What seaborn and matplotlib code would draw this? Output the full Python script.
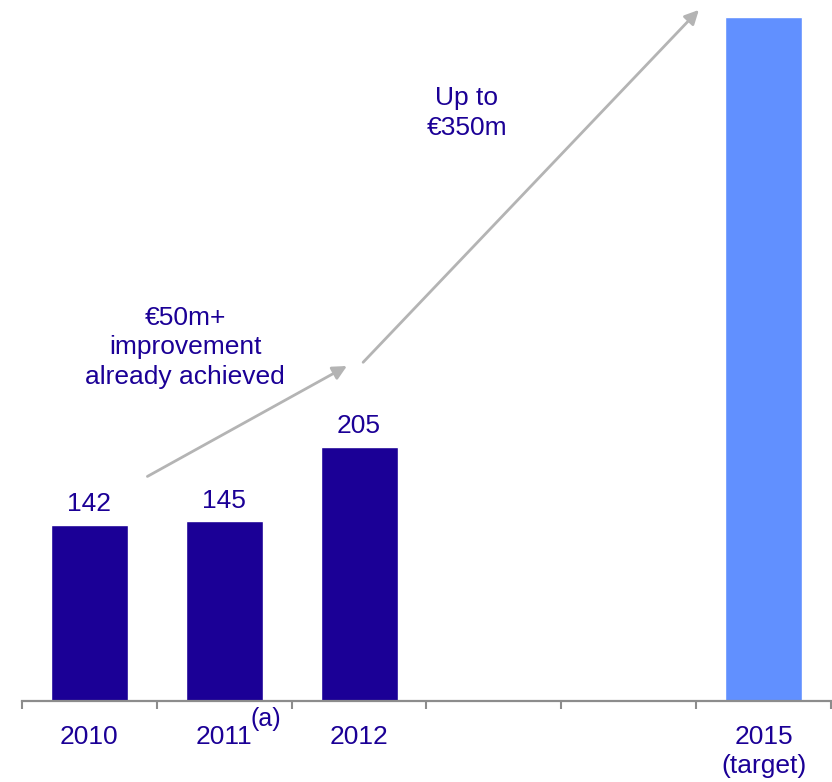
import numpy as np
import pandas as pd
import matplotlib
matplotlib.use("Agg")
import matplotlib.pyplot as plt
import seaborn as sns

# Operating result (EUR m) per year; 2013 and 2014 are empty slots on the axis
years = ["2010", "2011", "2012", "2013", "2014", "2015"]
values = [142, 145, 205, np.nan, np.nan, 551]
kinds = ["actual", "actual", "actual", "actual", "actual", "target"]
tick_labels = ["2010", "2011", "2012", "", "", "2015\n(target)"]
value_labels = ["142", "145", "205", "", "", ""]

navy = "#1B0096"
light = "#6190FF"
grey = "#B4B4B4"

sns.set_theme(style="white")
plt.rcParams["font.family"] = ["Liberation Sans", "DejaVu Sans"]

df = pd.DataFrame({"year": years, "value": values, "kind": kinds})

fig = plt.figure(figsize=(8.32, 7.82), dpi=100)
ax = fig.add_axes([22 / 832, 81 / 782, 809 / 832, 701 / 782])

sns.barplot(data=df, x="year", y="value", hue="kind", order=years,
            palette={"actual": navy, "target": light}, dodge=False,
            width=0.57, legend=False, ax=ax, saturation=1)

ax.set_xlim(-0.5, 5.5)
ax.set_ylim(0, 565)
ax.set_xlabel("")
ax.set_ylabel("")
ax.set_yticks([])
for side in ["left", "right", "top"]:
    ax.spines[side].set_visible(False)
ax.spines["bottom"].set_color("#8C8C8C")
ax.spines["bottom"].set_linewidth(1.6)

ax.set_xticks(range(len(years)))
ax.set_xticklabels(tick_labels, fontsize=19, color=navy, linespacing=1.3)
ax.set_xticks(np.arange(-0.5, len(years)), minor=True)
ax.tick_params(axis="x", which="major", length=0, pad=17)
ax.tick_params(axis="x", which="minor", length=6, width=1.5,
               color="#8C8C8C", direction="out", bottom=True)

# footnote marker on the 2011 label
ax.annotate("(a)", xy=(1, 0), xytext=(30, -13), textcoords="offset points",
            ha="center", va="center", fontsize=18, color=navy,
            annotation_clip=False)

# value labels above the actual bars
for i, (v, lab) in enumerate(zip(values, value_labels)):
    if lab:
        ax.annotate(lab, xy=(i, v), xytext=(0, 6), textcoords="offset points",
                    ha="center", va="bottom", fontsize=19, color=navy)

arrow = dict(arrowstyle="-|>,head_length=0.7,head_width=0.35",
             color=grey, lw=2, shrinkA=0, shrinkB=0)
ax.annotate("", xy=(1.91, 270), xytext=(0.43, 181), arrowprops=arrow)
ax.annotate("", xy=(4.52, 557), xytext=(2.03, 273), arrowprops=arrow,
            annotation_clip=False)

ax.text(0.71, 285, "€50m+\nimprovement\nalready achieved", ha="center",
        va="center", fontsize=19, color=navy, linespacing=1.3)
ax.text(2.80, 474, "Up to\n€350m", ha="center", va="center",
        fontsize=19, color=navy, linespacing=1.3)

fig.savefig("out.png", dpi=100)
